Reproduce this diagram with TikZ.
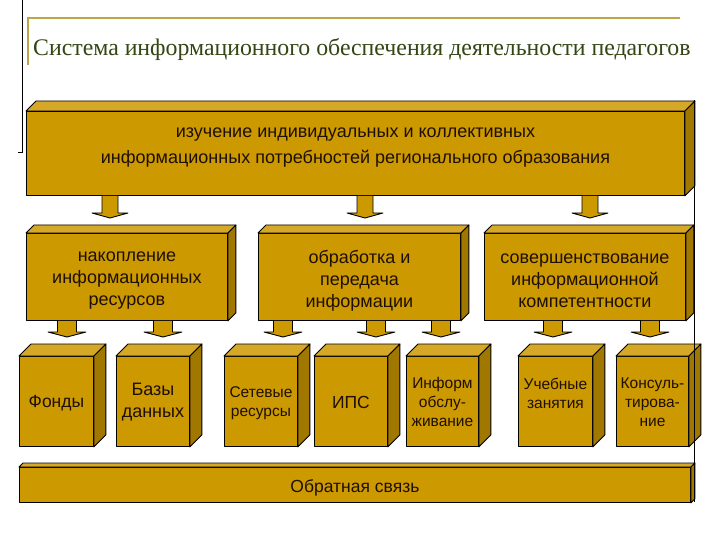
\documentclass[tikz,border=0pt]{standalone}
\usepackage{fontspec}
\setmainfont{Liberation Sans}
\newfontfamily\titlefont{Liberation Serif}
\usetikzlibrary{calc}
\definecolor{gfront}{RGB}{204,153,0}
\definecolor{gtop}{RGB}{214,168,40}
\definecolor{gside}{RGB}{160,120,0}
\definecolor{titlegreen}{RGB}{52,70,20}
\definecolor{framegold}{RGB}{190,165,70}
\definecolor{txt}{RGB}{30,15,0}
\tikzset{
 face/.style={draw=black, line width=0.9pt, line join=round},
 front/.style={face, fill=gfront, inner sep=0pt, anchor=north west},
 topf/.style={face, fill=gtop},
 sidef/.style={face, fill=gside},
 barr/.style={face, fill=gfront},
 lbl/.style={align=center, text=txt, inner sep=0pt},
 fbig/.style={font=\fontsize{18}{26}\selectfont},
 fmid/.style={font=\fontsize{18}{22}\selectfont},
 fsmall/.style={font=\fontsize{15.5}{19}\selectfont},
 flarge/.style={font=\fontsize{17.5}{22}\selectfont},
}
% name, x1, y1, x2, y2, depth, text options, text, text shift down
\newcommand\cube[9]{%
 \node[front, minimum width={(#4-#2)*1pt}, minimum height={(#5-#3)*1pt}] (#1) at (#2,#3) {};
 \draw[topf] (#1.north west) -- ++(#6,-#6) -- ($(#1.north east)+(#6,-#6)$) -- (#1.north east) -- cycle;
 \draw[sidef] (#1.north east) -- ++(#6,-#6) -- ($(#1.south east)+(#6,-#6)$) -- (#1.south east) -- cycle;
 \node[lbl, #7] (#1t) at ($(#1.center)+(0,#9)$) {#8};
}
% x, source, target, tip offset above target, shaft half width, head half width, head height
\newcommand\barrow[7]{%
 \draw[barr] let \p1=(#2.south), \p2=(#3.north) in
  ({#1pt-#5pt},\y1) -- ({#1pt-#5pt},{\y2+#4pt+#7pt}) -- ({#1pt-#6pt},{\y2+#4pt+#7pt})
  -- (#1pt,{\y2+#4pt}) -- ({#1pt+#6pt},{\y2+#4pt+#7pt}) -- ({#1pt+#5pt},{\y2+#4pt+#7pt})
  -- ({#1pt+#5pt},\y1);
}
\begin{document}
\begin{tikzpicture}[x=1pt,y=-1pt]
\useasboundingbox[fill=white] (0,0) rectangle (720,540);
% slide frame
\draw[line width=0.8pt] (22,0) coordinate (la) -- (22,152) coordinate (lb) -- (18,152) coordinate (lc);
\draw[framegold, line width=2.5pt] (28,65) coordinate (ga) -- (28,18) coordinate (gb) -- (680,18) coordinate (gc);
\node[anchor=base west, inner sep=0pt, text=titlegreen, font=\titlefont\fontsize{23.8}{28}\selectfont] (title) at (33,56)
 {Система информационного обеспечения деятельности педагогов};
% top box
\cube{big}{26}{111}{684}{195}{10}{fbig}{изучение индивидуальных и коллективных\\информационных потребностей регионального образования}{-6}
% middle boxes
\cube{m1}{26}{233}{227}{320}{8}{fmid}{накопление\\информационных\\ресурсов}{3.5}
\cube{m2}{258}{233}{460}{320}{8}{fmid}{обработка и\\передача\\информации}{3.5}
\cube{m3}{484}{233}{685}{320}{8}{fmid}{совершенствование\\информационной\\компетентности}{3.5}
% bottom boxes
\cube{b1}{19}{356}{93}{446}{12}{flarge}{Фонды}{2}
\cube{b2}{116}{356}{189}{446}{12}{fmid}{Базы\\данных}{0.5}
\cube{b3}{224}{356}{297}{446}{12}{fsmall}{Сетевые\\ресурсы}{2}
\cube{b4}{314}{356}{387}{446}{12}{flarge}{ИПС}{1}
\cube{b5}{406}{356}{478}{446}{12}{fsmall}{Информ\\обслу-\\живание}{1}
\cube{b6}{518}{356}{592}{446}{12}{fsmall}{Учебные\\занятия}{-8.5}
\cube{b7}{616}{356}{688}{446}{12}{fsmall}{Консуль-\\тирова-\\ние}{1}
% feedback
\cube{fb}{19}{467}{690}{502}{4}{flarge}{Обратная связь}{3}
% arrows
\barrow{110}{big}{m1}{15}{8}{18}{5}
\barrow{365}{big}{m2}{15}{8}{18}{5}
\barrow{590}{big}{m3}{15}{8}{18}{5}
\barrow{67}{m1}{b1}{19}{9.5}{19}{5}
\barrow{163}{m1}{b2}{19}{9.5}{19}{5}
\barrow{283}{m2}{b3}{19}{9.5}{19}{5}
\barrow{376}{m2}{b4}{19}{9.5}{19}{5}
\barrow{441}{m2}{b5}{19}{9.5}{19}{5}
\barrow{553}{m3}{b6}{19}{9.5}{19}{5}
\barrow{650}{m3}{b7}{19}{9.5}{19}{5}
% right frame line
\draw[line width=0.8pt] (694,100) coordinate (ra) -- (694,502) coordinate (rb);
\end{tikzpicture}
\end{document}
